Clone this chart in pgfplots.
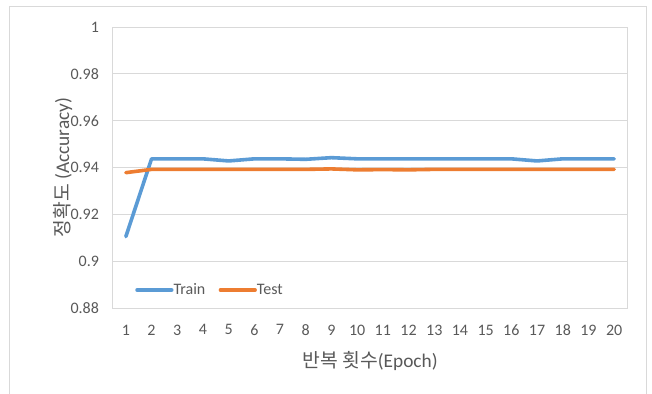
\documentclass[border=0pt]{standalone}
\usepackage{pgfplots}
\pgfplotsset{compat=1.18}
\usepackage{fontspec}
\setmainfont{Carlito}
\newfontfamily\kr{Noto Sans CJK KR}
\definecolor{trainc}{HTML}{5B9BD5}
\definecolor{testc}{HTML}{ED7D31}
\definecolor{txtc}{HTML}{595959}
\definecolor{gridc}{HTML}{D9D9D9}
\begin{document}
\begin{tikzpicture}[x=0.75pt,y=0.75pt]
\path[use as bounding box] (-113,-85) rectangle (539,308);
\draw[gridc,line width=0.75pt] (-103,-90) -- (-103,301) -- (533,301) -- (533,-90);
\begin{axis}[
  at={(0,0)}, anchor=south west,
  scale only axis, width=385.5pt, height=210.75pt,
  xmin=0.5, xmax=20.5, ymin=0.88, ymax=1,
  xtick={1,...,20}, ytick={0.88,0.9,...,1.0},
  yticklabels={0.88,0.9,0.92,0.94,0.96,0.98,1},
  ymajorgrids, grid style={gridc,line width=0.75pt},
  axis line style={gridc,line width=0.75pt},
  major tick length=0pt,
  tick label style={txtc,font=\fontsize{12}{14}\selectfont},
  /pgf/number format/assume math mode=true,
  xticklabel style={yshift=-9pt},
  yticklabel style={xshift=-7pt},
  xlabel={\kr 반복 횟수\rmfamily(Epoch)},
  ylabel={\kr 정확도 \rmfamily(Accuracy)},
  label style={txtc,font=\fontsize{14.5}{16}\selectfont},
  xlabel style={at={(axis description cs:0.5,0)},yshift=-29pt,anchor=north},
  ylabel style={at={(axis description cs:0,0.5)},yshift=27pt,anchor=south},
  legend style={at={(0.035,0.064)},anchor=west,draw=none,fill=none,
    legend columns=2, font=\fontsize{12}{14}\selectfont\color{txtc},
    /tikz/every even column/.append style={column sep=8pt},
    /tikz/every odd column/.append style={column sep=-2pt}},
  legend image code/.code={\draw[#1,line cap=round] (0pt,0pt) -- (26pt,0pt);},
  every axis plot/.append style={line width=2.7pt, line join=round, line cap=round},
]
\addplot[trainc] coordinates {(1,0.9105) (2,0.9437) (3,0.9437) (4,0.9437) (5,0.9428) (6,0.9437) (7,0.9437) (8,0.9435) (9,0.9442) (10,0.9437) (11,0.9437) (12,0.9437) (13,0.9437) (14,0.9437) (15,0.9437) (16,0.9437) (17,0.9428) (18,0.9437) (19,0.9437) (20,0.9437)};
\addlegendentry{Train}
\addplot[testc] coordinates {(1,0.9378) (2,0.9392) (3,0.9392) (4,0.9392) (5,0.9392) (6,0.9392) (7,0.9392) (8,0.9392) (9,0.9394) (10,0.9390) (11,0.9391) (12,0.9390) (13,0.9392) (14,0.9392) (15,0.9392) (16,0.9392) (17,0.9392) (18,0.9392) (19,0.9392) (20,0.9392)};
\addlegendentry{Test}
\end{axis}
\end{tikzpicture}
\end{document}
